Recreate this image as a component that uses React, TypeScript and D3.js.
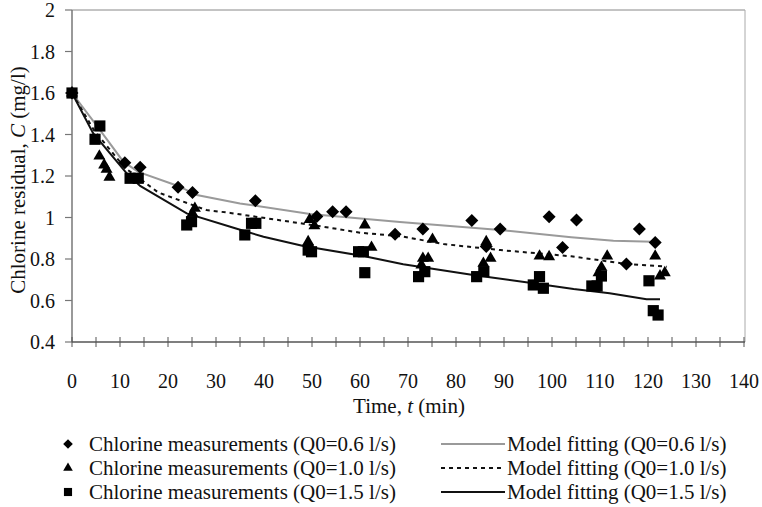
import React from "react";
import * as d3 from "d3";

const W = 762, H = 507;
const xTicks = [0, 10, 20, 30, 40, 50, 60, 70, 80, 90, 100, 110, 120, 130, 140];
const yTicks = [0.4, 0.6, 0.8, 1, 1.2, 1.4, 1.6, 1.8, 2];

const meas06: [number, number][] = [
  [0, 1.6], [11, 1.264], [14.2, 1.242], [22.1, 1.146], [25.1, 1.12], [38.2, 1.081],
  [51, 1.005], [54.3, 1.028], [57.1, 1.028], [67.3, 0.919], [73.1, 0.945], [83.3, 0.985],
  [86.3, 0.86], [89.2, 0.945], [99.4, 1.004], [102.2, 0.856], [105.1, 0.988],
  [115.5, 0.776], [118.2, 0.945], [121.5, 0.879],
];
const meas10: [number, number][] = [
  [0, 1.6], [5.7, 1.296], [6.7, 1.253], [7.2, 1.232], [7.8, 1.194], [25.6, 1.044], [25.1, 1.02],
  [49.5, 0.99], [50.5, 0.96], [49.2, 0.883], [61, 0.964], [62.4, 0.856], [75.1, 0.895],
  [73.1, 0.803], [74.2, 0.803], [72.8, 0.771], [86.3, 0.883], [85.7, 0.779], [87.2, 0.803],
  [97.4, 0.814], [99.4, 0.811], [111.5, 0.814], [110.3, 0.76], [109.7, 0.734],
  [121.5, 0.814], [123.5, 0.734], [122.5, 0.718],
];
const meas15: [number, number][] = [
  [0, 1.6], [5.8, 1.441], [4.8, 1.377], [12.1, 1.189], [13.8, 1.189], [23.9, 0.964], [24.9, 0.98],
  [36, 0.916], [37.4, 0.972], [38.3, 0.972], [49.2, 0.843], [49.9, 0.835], [59.7, 0.835],
  [60.7, 0.835], [61, 0.734], [72.2, 0.715], [73.5, 0.739], [84.3, 0.715], [85.8, 0.739],
  [96.1, 0.675], [97.4, 0.715], [98.2, 0.659], [108.3, 0.67], [109.4, 0.67], [110.3, 0.718],
  [120.2, 0.695], [121.1, 0.551], [122.1, 0.53],
];
const model06: [number, number][] = [
  [0, 1.6], [4.8, 1.454], [10.7, 1.269], [13.8, 1.22], [22.1, 1.152], [26, 1.108], [35, 1.068],
  [49.6, 1.017], [68.3, 0.978], [89.2, 0.94], [104, 0.905], [112.8, 0.888], [121.1, 0.883],
];
const model10: [number, number][] = [
  [0, 1.6], [4.6, 1.42], [11, 1.24], [18, 1.12], [28, 1.036], [33, 1.022], [46.8, 0.975],
  [53, 0.953], [60, 0.927], [69, 0.908], [77.4, 0.872], [89.2, 0.843], [104, 0.813],
  [115.5, 0.776], [123.9, 0.763],
];
const model15: [number, number][] = [
  [0, 1.6], [4.4, 1.406], [11.4, 1.213], [14.2, 1.152], [23.9, 1.02], [34, 0.948], [39.9, 0.907],
  [48.2, 0.863], [60.7, 0.814], [69, 0.775], [83.6, 0.723], [96.1, 0.683], [104.5, 0.655],
  [112, 0.635], [119.7, 0.606], [122.5, 0.606],
];

const legendMeas = [
  "Chlorine measurements (Q0=0.6 l/s)",
  "Chlorine measurements (Q0=1.0 l/s)",
  "Chlorine measurements (Q0=1.5 l/s)",
];
const legendModel = [
  "Model fitting (Q0=0.6 l/s)",
  "Model fitting (Q0=1.0 l/s)",
  "Model fitting (Q0=1.5 l/s)",
];

const x = d3.scaleLinear().domain([0, 140]).range([72, 744]);
const y = d3.scaleLinear().domain([0.4, 2]).range([342, 10]);
const line = d3.line<[number, number]>().x((d) => x(d[0])).y((d) => y(d[1]));

const diamondPath = (r: number) => `M0,${-r}L${r},0L0,${r}L${-r},0Z`;
const trianglePath = (s: number) => d3.symbol().type(d3.symbolTriangle).size(s)() as string;
const squarePath = (s: number) => d3.symbol().type(d3.symbolSquare).size(s)() as string;

const plotSyms = [diamondPath(6.5), trianglePath(62), squarePath(125)];
const legendSyms = [diamondPath(4.8), trianglePath(40), squarePath(66)];

const FONT = "'Liberation Serif', 'Times New Roman', serif";

const lineStyles = [
  { stroke: "#9a9a9a", dash: undefined as string | undefined },
  { stroke: "#111", dash: "4,4" },
  { stroke: "#111", dash: undefined as string | undefined },
];

export default function App() {
  const minor = d3.range(0, 141, 5);
  const series = [meas06, meas10, meas15];
  const models = [model06, model10, model15];
  return (
    <svg width={W} height={H} style={{ position: "absolute", left: 0, top: 0, background: "#fff" }} fontFamily={FONT}>
      {/* frame */}
      <line x1={72} x2={745} y1={10} y2={10} stroke="#888" strokeWidth={1} />
      <line x1={745} x2={745} y1={10} y2={342} stroke="#aaa" strokeWidth={1} />
      {/* y axis */}
      <line x1={72} x2={72} y1={10} y2={342} stroke="#777" strokeWidth={1.5} />
      {yTicks.map((t) => (
        <g key={t}>
          <line x1={65} x2={72} y1={y(t)} y2={y(t)} stroke="#777" strokeWidth={1.2} />
          <text x={55} y={y(t)} dy="0.35em" textAnchor="end" fontSize={20} fill="#111">
            {String(t)}
          </text>
        </g>
      ))}
      {/* x axis */}
      <line x1={72} x2={745} y1={342} y2={342} stroke="#555" strokeWidth={1.5} />
      {minor.map((t) => (
        <line key={t} x1={x(t)} x2={x(t)} y1={337} y2={347} stroke="#555" strokeWidth={1} />
      ))}
      {xTicks.map((t) => (
        <text key={t} x={x(t)} y={388} textAnchor="middle" fontSize={20} fill="#111">
          {t}
        </text>
      ))}
      <text x={409} y={406} dy="0.35em" textAnchor="middle" fontSize={21} fill="#111">
        Time, <tspan fontStyle="italic">t</tspan> (min)
      </text>
      <text transform={`translate(18,180) rotate(-90)`} dy="0.35em" textAnchor="middle" fontSize={21} fill="#111">
        Chlorine residual, <tspan fontStyle="italic">C</tspan> (mg/l)
      </text>
      {/* model lines */}
      {models.map((m, i) => (
        <path key={i} d={line(m) || ""} fill="none" stroke={lineStyles[i].stroke} strokeWidth={2}
          strokeDasharray={lineStyles[i].dash} />
      ))}
      {/* markers */}
      {series.map((s, i) => (
        <g key={i}>
          {s.map((d, j) => (
            <path key={j} d={plotSyms[i]} transform={`translate(${x(d[0])},${y(d[1])})`} fill="#000" />
          ))}
        </g>
      ))}
      {/* legend */}
      {legendMeas.map((t, i) => {
        const ly = 444 + i * 24;
        return (
          <g key={t}>
            <path d={legendSyms[i]} transform={`translate(68,${ly})`} fill="#000" />
            <text x={89} y={ly} dy="0.35em" fontSize={21} fill="#111">{t}</text>
          </g>
        );
      })}
      {legendModel.map((t, i) => {
        const ly = 444 + i * 24;
        return (
          <g key={t}>
            <line x1={441} x2={505} y1={ly} y2={ly} stroke={lineStyles[i].stroke} strokeWidth={2}
              strokeDasharray={lineStyles[i].dash} />
            <text x={507} y={ly} dy="0.35em" fontSize={21} fill="#111">{t}</text>
          </g>
        );
      })}
    </svg>
  );
}
